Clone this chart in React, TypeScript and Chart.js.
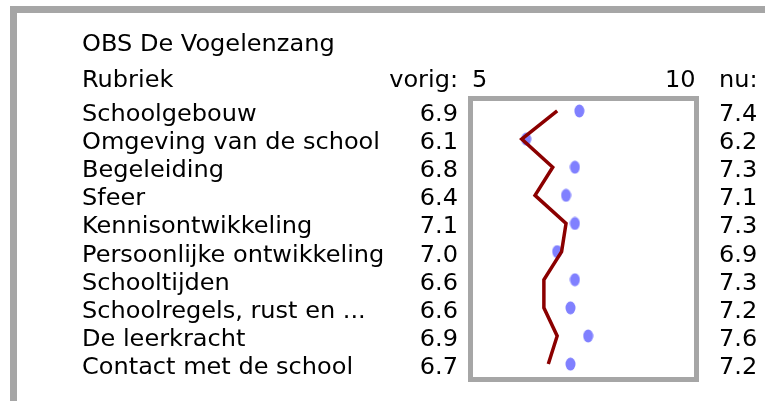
import React, { useEffect, useRef } from "react";
import { Chart, registerables } from "chart.js";

Chart.register(...registerables);

const title = "OBS De Vogelenzang";
const headerLabel = "Rubriek";
const headerPrev = "vorig:";
const headerNow = "nu:";
const categories = [
  "Schoolgebouw",
  "Omgeving van de school",
  "Begeleiding",
  "Sfeer",
  "Kennisontwikkeling",
  "Persoonlijke ontwikkeling",
  "Schooltijden",
  "Schoolregels, rust en ...",
  "De leerkracht",
  "Contact met de school",
];
const previousValues = [6.9, 6.1, 6.8, 6.4, 7.1, 7.0, 6.6, 6.6, 6.9, 6.7];
const currentValues = [7.4, 6.2, 7.3, 7.1, 7.3, 6.9, 7.3, 7.2, 7.6, 7.2];
const scaleMin = 5;
const scaleMax = 10;

const FONT = "23px 'DejaVu Sans'";
const STRETCH = 1.045;
const GRAY = "#a6a6a6";

function makeDot(): HTMLCanvasElement {
  const c = document.createElement("canvas");
  c.width = 11;
  c.height = 14;
  const ctx = c.getContext("2d")!;
  ctx.fillStyle = "#8080ff";
  ctx.beginPath();
  ctx.ellipse(5.5, 7, 5, 6.5, 0, 0, Math.PI * 2);
  ctx.fill();
  return c;
}

function drawText(ctx: CanvasRenderingContext2D, text: string, x: number, y: number, align: "left" | "right") {
  const w = ctx.measureText(text).width * STRETCH;
  const left = align === "left" ? x : x - w;
  ctx.save();
  ctx.translate(left, y);
  ctx.scale(STRETCH, 1);
  ctx.textAlign = "left";
  ctx.fillText(text, 0, 0);
  ctx.restore();
}

const textPlugin = {
  id: "tablePlugin",
  beforeDraw(chart: any) {
    const ctx = chart.ctx;
    const a = chart.chartArea;
    ctx.save();
    ctx.fillStyle = GRAY;
    ctx.fillRect(10, 6, chart.width - 10, 7);
    ctx.fillRect(10, 6, 7, chart.height - 6);
    ctx.fillStyle = "#ffffff";
    ctx.fillRect(a.left, a.top, a.right - a.left, a.bottom - a.top);
    ctx.strokeStyle = GRAY;
    ctx.lineWidth = 5;
    ctx.strokeRect(a.left - 2.5, a.top - 1.5, a.right - a.left + 4.5, a.bottom - a.top + 4);
    ctx.restore();
  },
  afterDraw(chart: any) {
    const ctx = chart.ctx;
    const ys = chart.scales.y;
    const xs = chart.scales.x;
    const labelX = 82;
    const prevRight = 458;
    const nowLeft = 719;
    ctx.save();
    ctx.font = FONT;
    ctx.fillStyle = "#000000";
    ctx.textBaseline = "alphabetic";
    const rowBase = (i: number) => ys.getPixelForValue(i) + 10;
    drawText(ctx, title, labelX, rowBase(-2.5), "left");
    const hb = rowBase(-1.2);
    drawText(ctx, headerLabel, labelX, hb, "left");
    drawText(ctx, headerPrev, prevRight, hb, "right");
    drawText(ctx, String(scaleMin), xs.getPixelForValue(scaleMin) - 1, hb, "left");
    drawText(ctx, String(scaleMax), xs.getPixelForValue(scaleMax) + 1, hb, "right");
    drawText(ctx, headerNow, nowLeft, hb, "left");
    categories.forEach((c, i) => {
      const b = rowBase(i);
      drawText(ctx, c, labelX, b, "left");
      drawText(ctx, previousValues[i].toFixed(1), prevRight, b, "right");
      drawText(ctx, currentValues[i].toFixed(1), nowLeft, b, "left");
    });
    ctx.restore();
  },
};

export default function App() {
  const ref = useRef<HTMLCanvasElement>(null);
  useEffect(() => {
    document.body.style.margin = "0";
    const dot = makeDot();
    const chart = new Chart(ref.current!, {
      type: "scatter",
      data: {
        datasets: [
          {
            type: "line",
            data: previousValues.map((v, i) => ({ x: v, y: i })),
            borderColor: "#8b0000",
            borderWidth: 3.5,
            pointRadius: 0,
            tension: 0,
            fill: false,
            order: 1,
          } as any,
          {
            data: currentValues.map((v, i) => ({ x: v, y: i })),
            pointStyle: dot as any,
            pointRadius: 6,
            order: 2,
          },
        ],
      },
      options: {
        animation: false,
        responsive: false,
        devicePixelRatio: 1,
        layout: { padding: { left: 473, right: 70.5, top: 100, bottom: 24 } },
        plugins: { legend: { display: false }, tooltip: { enabled: false }, title: { display: false } },
        scales: {
          x: { type: "linear", min: scaleMin, max: scaleMax, display: false },
          y: { type: "linear", min: -0.39, max: 9.46, reverse: true, display: false },
        },
      },
      plugins: [textPlugin],
    });
    return () => chart.destroy();
  }, []);
  return <canvas ref={ref} width={765} height={401} style={{ display: "block" }} />;
}
